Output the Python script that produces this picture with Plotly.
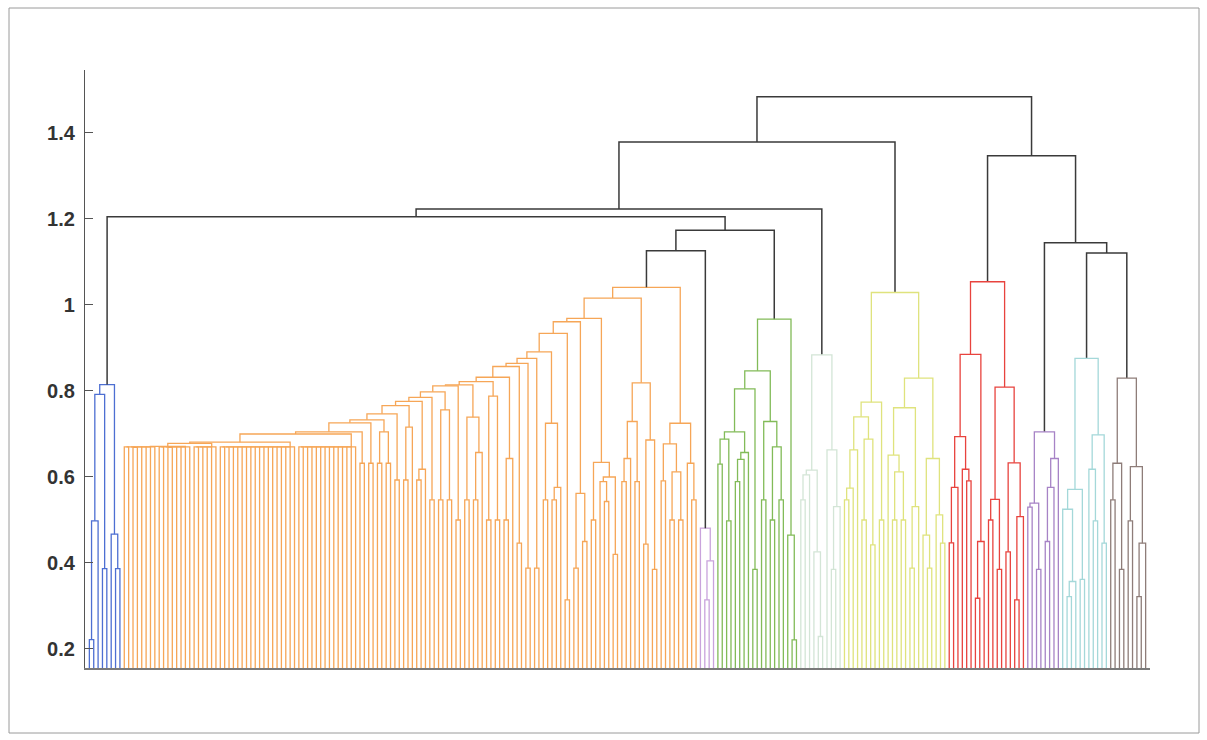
import plotly.graph_objects as go

# Merge height between each pair of neighbouring leaves, cluster by cluster,
# in left-to-right leaf order (n leaves -> n-1 heights).
blue_gaps = [0.222, 0.498, 0.792, 0.387, 0.815, 0.467, 0.387]

orange_gaps = [
    # flat block on the left
    0.670, 0.670, 0.669, 0.670, 0.670, 0.670, 0.670, 0.671,
    0.670, 0.670, 0.669, 0.670, 0.670, 0.670, 0.670,
    0.678,
    0.670, 0.670, 0.670, 0.670, 0.670,
    0.681,
    0.670, 0.670, 0.670, 0.670, 0.670, 0.670, 0.670, 0.670, 0.670,
    0.670, 0.670, 0.670, 0.670, 0.670, 0.670, 0.670, 0.670,
    0.700,
    0.670, 0.670, 0.670, 0.670, 0.670, 0.670, 0.670,
    0.670, 0.670, 0.670, 0.670, 0.670, 0.670,
    # rising chain
    0.705, 0.632,
    0.726, 0.632,
    0.733, 0.632, 0.705, 0.632,
    0.747, 0.593,
    0.766, 0.593, 0.716,
    0.776, 0.593, 0.618,
    0.785, 0.547,
    0.798, 0.547, 0.756, 0.547,
    0.812, 0.500,
    0.814, 0.547, 0.739, 0.547, 0.657,
    0.822, 0.500, 0.788, 0.500,
    0.832, 0.500, 0.643,
    0.857, 0.446,
    0.864, 0.388,
    0.876, 0.388,
    0.891, 0.547, 0.725, 0.547, 0.576,
    0.934, 0.314,
    0.961, 0.388, 0.562, 0.450,
    0.969, 0.500, 0.634, 0.589, 0.543, 0.600, 0.420,
    1.016, 0.589, 0.643, 0.729, 0.589, 0.819, 0.444, 0.686, 0.385,
    1.041, 0.591, 0.677, 0.500, 0.612, 0.500, 0.725, 0.632, 0.547,
]

lilac_gaps = [0.481, 0.314, 0.405]

green_gaps = [0.630, 0.688, 0.498, 0.705, 0.589, 0.641, 0.657, 0.805, 0.385,
              0.847, 0.547, 0.729, 0.500, 0.670, 0.547, 0.967, 0.465, 0.221]

mint_gaps = [0.547, 0.605, 0.616, 0.426, 0.229, 0.884, 0.663, 0.385, 0.531]

yellow_gaps = [0.547, 0.574, 0.663, 0.740, 0.500, 0.688, 0.442, 0.774, 0.500,
               1.029, 0.651, 0.500, 0.612, 0.500, 0.761, 0.388, 0.531, 0.830,
               0.465, 0.388, 0.643, 0.512, 0.446]

red_gaps = [0.447, 0.576, 0.694, 0.618, 0.591, 0.885, 0.318, 0.450, 1.054,
            0.500, 0.548, 0.385, 0.809, 0.426, 0.633, 0.314, 0.508]

violet_gaps = [0.530, 0.539, 0.385, 0.705, 0.450, 0.576, 0.643]

cyan_gaps = [0.525, 0.322, 0.357, 0.571, 0.362, 0.876, 0.618, 0.498, 0.698, 0.446]

taupe_gaps = [0.547, 0.632, 0.385, 0.830, 0.498, 0.624, 0.322, 0.446]

cluster_gaps = [blue_gaps, orange_gaps, lilac_gaps, green_gaps, mint_gaps,
                yellow_gaps, red_gaps, violet_gaps, cyan_gaps, taupe_gaps]
cluster_colors = ["#4d6fd2", "#f6a657", "#c9a3dc", "#82bb58", "#d3e5d6",
                  "#dfe37d", "#e8433e", "#a783c6", "#a4d8d9", "#8e7d79"]
# heights of the links joining neighbouring clusters
cluster_links = [1.205, 1.126, 1.174, 1.223, 1.379, 1.484, 1.347, 1.145, 1.121]
link_color = "#3a3a3a"

y_ticks = [0.2, 0.4, 0.6, 0.8, 1.0, 1.2, 1.4]
y_tick_text = ["0.2", "0.4", "0.6", "0.8", "1", "1.2", "1.4"]

# ---- flatten into one leaf order ----
gaps, leaf_cluster = [], []
for ci, g in enumerate(cluster_gaps):
    if ci > 0:
        gaps.append(cluster_links[ci - 1])
    leaf_cluster.extend([ci] * (len(g) + 1))
    gaps.extend(g)
n_leaves = len(leaf_cluster)

segs = {}


def add_seg(color, xs, ys):
    bx, by = segs.setdefault(color, ([], []))
    bx.extend(xs + [None])
    by.extend(ys + [None])


def build(lo, hi):
    """Draw the subtree spanning leaves lo..hi; return (x, height, cluster)."""
    if lo == hi:
        return lo + 1, 0.0, leaf_cluster[lo]
    k = lo
    for j in range(lo, hi):
        if gaps[j] >= gaps[k]:
            k = j
    lx, ly, lc = build(lo, k)
    rx, ry, rc = build(k + 1, hi)
    h = gaps[k]
    c = lc if lc == rc else -1
    color = cluster_colors[c] if c >= 0 else link_color
    add_seg(color, [lx, lx, rx, rx], [ly, h, h, ry])
    return (lx + rx) / 2, h, c


build(0, n_leaves - 1)

fig = go.Figure()
for color, (xs, ys) in segs.items():
    fig.add_trace(go.Scatter(
        x=xs, y=ys, mode="lines", hoverinfo="skip",
        line=dict(color=color, width=1.5 if color == link_color else 1.3),
    ))

W, H = 1207, 740
L, R, T, B = 85, 57, 70, 72
pw, ph = W - L - R, H - T - B

fig.update_layout(
    width=W, height=H,
    margin=dict(l=L, r=R, t=T, b=B),
    paper_bgcolor="white", plot_bgcolor="white",
    showlegend=False,
    xaxis=dict(range=[0, n_leaves + 1], showgrid=False, zeroline=False,
               showticklabels=False, ticks="", showline=True,
               linecolor="#7a7a7a", linewidth=1.5),
    yaxis=dict(range=[0.1558, 1.5465], showgrid=False, zeroline=False,
               tickmode="array", tickvals=y_ticks, ticktext=y_tick_text,
               ticks="inside", ticklen=8, tickcolor="#555555", tickwidth=1,
               showline=True, linecolor="#555555", linewidth=1.2,
               ticklabelstandoff=5,
               tickfont=dict(family="Liberation Sans, Arial, sans-serif",
                             size=20, color="#333333", weight="bold")),
    shapes=[dict(type="rect", xref="paper", yref="paper",
                 x0=(9 - L) / pw, x1=(1199 - L) / pw,
                 y0=(H - B - 733) / ph, y1=(H - B - 8) / ph,
                 line=dict(color="#9a9a9a", width=1))],
)

fig.write_html("out.html")
